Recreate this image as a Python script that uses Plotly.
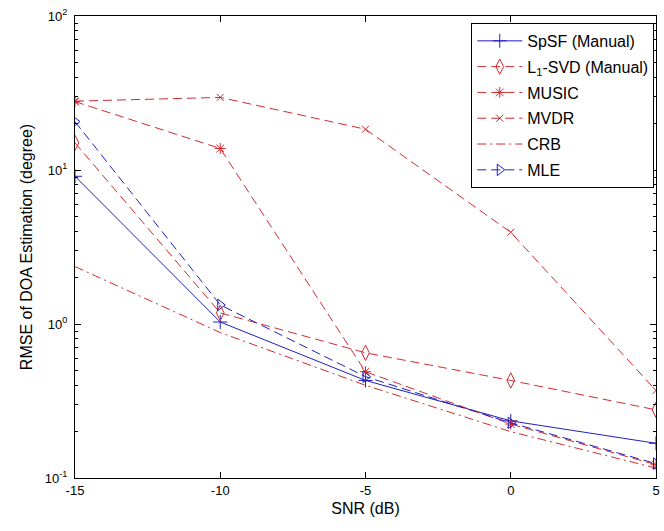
import plotly.graph_objects as go

snr = [-15, -10, -5, 0, 5]
spsf = [9.1, 1.03, 0.43, 0.235, 0.168]
l1svd = [15.0, 1.18, 0.65, 0.43, 0.277]
music = [27.8, 13.8, 0.49, 0.224, 0.122]
mvdr = [28.0, 29.6, 18.4, 3.94, 0.37]
crb = [2.36, 0.88, 0.40, 0.20, 0.116]
mle = [20.6, 1.33, 0.455, 0.228, 0.124]

names = ["SpSF (Manual)", "L<sub>1</sub>-SVD (Manual)", "MUSIC", "MVDR", "CRB", "MLE"]
x_ticks = [-15, -10, -5, 0, 5]
y_ticks = [0.1, 1, 10, 100]
y_ticktext = ["10<sup>-1</sup>", "10<sup>0</sup>", "10<sup>1</sup>", "10<sup>2</sup>"]

BLUE = "#1f1fbf"
RED = "#d22a2e"
DASH = "9px,5px"
DASHDOT = "9px,4px,2px,4px"

specs = [
    (spsf, BLUE, "solid", "cross-thin-open", 10),
    (l1svd, RED, DASH, "diamond-tall-open", 11),
    (music, RED, DASH, "asterisk-open", 9),
    (mvdr, RED, DASH, "x-thin-open", 7),
    (crb, RED, DASHDOT, None, 0),
    (mle, BLUE, DASH, "triangle-right-open", 10),
]

fig = go.Figure()
for i, ((vals, col, dash, sym, sz), nm) in enumerate(zip(specs, names)):
    mode = "lines+markers" if sym else "lines"
    marker = dict(symbol=sym, size=sz, color=col, line=dict(color=col, width=1)) if sym else None
    fig.add_trace(go.Scatter(
        x=snr, y=vals, name=nm, mode=mode,
        line=dict(color=col, width=1, dash=dash),
        marker=marker, legendgroup=f"g{i}",
    ))

minor_vals = []
for dec in [0.1, 1, 10]:
    for m in range(2, 10):
        minor_vals.append(dec * m)

fig.update_layout(
    width=664, height=531,
    margin=dict(l=75, r=4, t=16, b=53),
    paper_bgcolor="white", plot_bgcolor="white",
    font=dict(family="Liberation Sans, Arial", size=13, color="black"),
    showlegend=True,
    legend=dict(
        x=0.997, y=0.985, xanchor="right", yanchor="top",
        bordercolor="black", borderwidth=1, bgcolor="white",
        font=dict(size=16), tracegroupgap=2, traceorder="grouped",
        itemwidth=45,
    ),
)
fig.update_xaxes(
    range=[-15, 5], tickvals=x_ticks, ticktext=[str(v) for v in x_ticks],
    ticks="inside", ticklen=6, tickcolor="black", mirror="ticks",
    showline=True, linecolor="black", linewidth=1, showgrid=False, zeroline=False,
    title=dict(text="SNR (dB)", standoff=6),
)
fig.update_yaxes(
    type="log", range=[-1, 2], tickvals=y_ticks, ticktext=y_ticktext,
    ticks="inside", ticklen=6, tickcolor="black", mirror="ticks",
    showline=True, linecolor="black", linewidth=1, showgrid=False, zeroline=False,
    minor=dict(tickvals=minor_vals, ticks="inside", ticklen=3, tickcolor="black", showgrid=False),
    title=dict(text="RMSE of DOA Estimation (degree)", standoff=8),
    ticklabelstandoff=4,
)

fig.write_html("out.html")
